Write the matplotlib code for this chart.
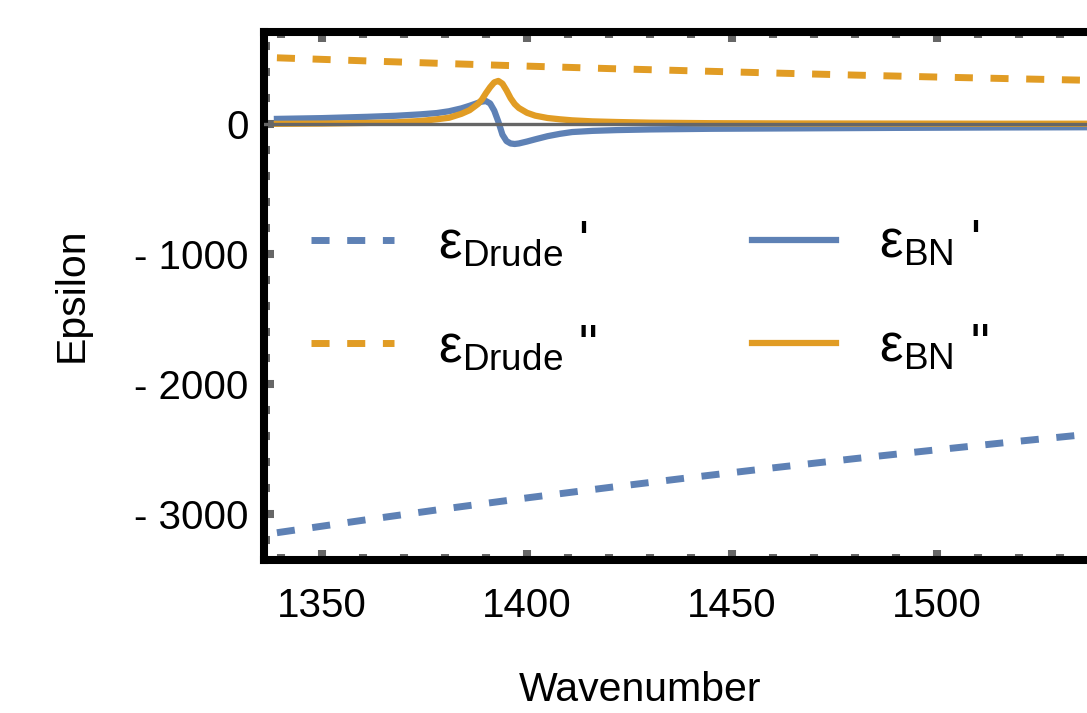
import numpy as np
import matplotlib
matplotlib.use("Agg")
import matplotlib.pyplot as plt
from matplotlib.ticker import MultipleLocator, FixedLocator, FuncFormatter

plt.rcParams['font.family'] = ['Liberation Sans', 'DejaVu Sans']
plt.rcParams['mathtext.fontset'] = 'custom'
plt.rcParams['mathtext.rm'] = 'Liberation Sans'
plt.rcParams['mathtext.it'] = 'Liberation Sans:italic'
plt.rcParams['lines.scale_dashes'] = False

# Drude model curves
wn_drude = [1339, 1360, 1380, 1400, 1420, 1440, 1460, 1480, 1500, 1520, 1540]
drude_re = [-3142, -3046, -2958, -2874, -2794, -2717, -2643, -2572, -2504, -2438, -2375]
drude_im = [511, 488, 467, 447, 428, 411, 394, 378, 363, 349, 336]

# hBN resonance curves
wn_bn = [1339, 1350, 1361, 1368, 1374, 1378, 1381, 1384, 1386, 1388, 1389, 1390,
         1391, 1392, 1393, 1394, 1395, 1396, 1397, 1398, 1400, 1402, 1405, 1408,
         1411, 1416, 1422, 1430, 1445, 1465, 1490, 1515, 1540]
bn_re = [41, 47, 57, 65, 76, 86, 100, 122, 142, 164, 174, 178,
         160, 105, 20, -80, -130, -148, -152, -148, -133, -116, -92, -74,
         -60, -51, -45, -40, -35, -32, -28, -25, -23]
bn_im = [3, 5, 10, 15, 25, 38, 50, 80, 108, 155, 190, 240,
         285, 322, 333, 312, 260, 200, 155, 125, 88, 66, 48, 38,
         30, 22, 17, 12, 8, 6, 5, 4, 4]

x_major = [1350, 1400, 1450, 1500]

blue = '#5E81B5'
orange = '#E19C24'
tick_gray = '#666666'
dash = (13, 12.7)

fig = plt.figure(figsize=(10.87, 7.13), dpi=100)
ax = fig.add_axes([264 / 1087, 153.5 / 713, 0.8455, 0.7403])

ax.plot(wn_drude, drude_re, color=blue, lw=5, dashes=dash, label=r"ε$_{\mathregular{Drude}}$ '")
ax.plot(wn_drude, drude_im, color=orange, lw=5, dashes=dash, label=r'ε$_{\mathregular{Drude}}$ "')
ax.plot(wn_bn, bn_re, color=blue, lw=4.5, label=r"ε$_{\mathregular{BN}}$ '")
ax.plot(wn_bn, bn_im, color=orange, lw=4.5, label=r'ε$_{\mathregular{BN}}$ "')
ax.axhline(0, color=tick_gray, lw=2.4, zorder=5)

ax.set_xlim(1335.85, 1560)
ax.set_ylim(-3348, 712)

ax.xaxis.set_major_locator(FixedLocator(x_major))
ax.xaxis.set_minor_locator(MultipleLocator(10))
ax.yaxis.set_major_locator(MultipleLocator(1000))
ax.yaxis.set_minor_locator(MultipleLocator(200))
ax.yaxis.set_major_formatter(FuncFormatter(lambda v, p: "0" if v == 0 else "- %d" % abs(v) if v < 0 else "%d" % v))

for s in ax.spines.values():
    s.set_linewidth(5.8)
    s.set_color('black')

ax.tick_params(which='both', direction='in', top=True, right=True, color=tick_gray, width=5.8)
ax.tick_params(which='major', length=7.2)
ax.tick_params(which='minor', length=4.3)
ax.tick_params(axis='x', labelsize=29, pad=19.5)
ax.tick_params(axis='y', labelsize=29, pad=11)

fig.text(640 / 1087, 1 - 700.7 / 713, 'Wavenumber', ha='center', va='baseline', fontsize=29.5)
fig.text(72 / 1087, 1 - 295 / 713, 'Epsilon', ha='center', va='center', rotation=90, fontsize=29.5)

ax.legend(ncol=2, loc='upper left', bbox_to_anchor=(311 / 1087, 1 - 219 / 713),
          bbox_transform=fig.transFigure, frameon=False, fontsize=38,
          borderpad=0, borderaxespad=0, handlelength=1.58, handletextpad=0.82,
          labelspacing=1.01, columnspacing=2.95)

fig.savefig('out.png', dpi=100)
